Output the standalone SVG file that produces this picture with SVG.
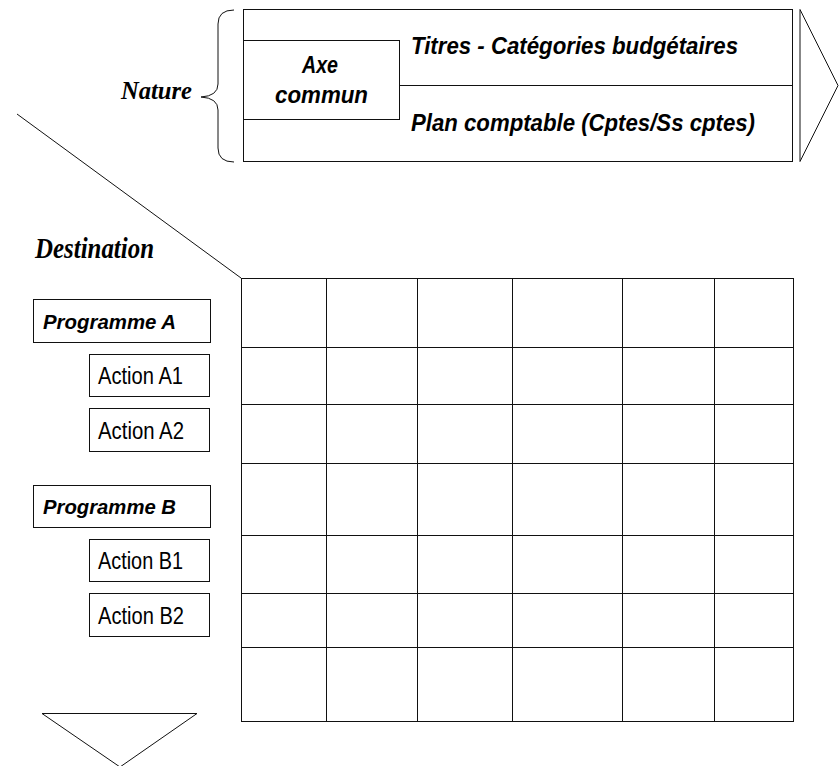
<svg xmlns="http://www.w3.org/2000/svg" width="840" height="766" viewBox="0 0 840 766">
<style>
.ln{fill:none;stroke:#111;stroke-width:1}
.bx{fill:#fff;stroke:#111;stroke-width:1}
.bi{font-family:"Liberation Sans",Arial,sans-serif;font-weight:bold;font-style:italic;fill:#000}
.rg{font-family:"Liberation Sans",Arial,sans-serif;fill:#000}
.sf{font-family:"Liberation Serif","Times New Roman",serif;font-weight:bold;font-style:italic;fill:#000}
</style>
<rect width="840" height="766" fill="#fff"/>
<g id="nature-axis">
<rect class="bx" x="243.5" y="9.5" width="549" height="152"/>
<line class="ln" x1="399.5" y1="85.5" x2="792.5" y2="85.5"/>
<polygon class="ln" points="800,9.5 838,85.5 800,161.5"/>
<path class="ln" d="M234,10 Q218,10 218,24 L218,84 Q218,96 201,97 Q218,98 218,110 L218,148 Q218,162 234,162"/>
<text class="sf" x="121" y="99" font-size="26" textLength="71" lengthAdjust="spacingAndGlyphs">Nature</text>
</g>
<g id="axe-commun">
<rect class="bx" x="243.5" y="40.5" width="156" height="79"/>
<text class="bi" x="302" y="73" font-size="24" textLength="36" lengthAdjust="spacingAndGlyphs">Axe</text>
<text class="bi" x="275" y="103" font-size="24" textLength="93" lengthAdjust="spacingAndGlyphs">commun</text>
</g>
<g id="titres">
<text class="bi" x="411" y="54" font-size="24" textLength="327" lengthAdjust="spacingAndGlyphs">Titres - Catégories budgétaires</text>
</g>
<g id="plan-comptable">
<text class="bi" x="411" y="131" font-size="24" textLength="344" lengthAdjust="spacingAndGlyphs">Plan comptable (Cptes/Ss cptes)</text>
</g>
<g id="connectors">
<line class="ln" x1="17" y1="114" x2="241" y2="278"/>
</g>
<g id="destination">
<text class="sf" x="35" y="258" font-size="29" textLength="119" lengthAdjust="spacingAndGlyphs">Destination</text>
<polygon class="ln" points="42,713.5 197,713.5 120,767"/>
</g>
<g id="programme-a">
<rect class="bx" x="33.5" y="299.5" width="177" height="43"/>
<text class="bi" x="43" y="329" font-size="21" textLength="133" lengthAdjust="spacingAndGlyphs">Programme A</text>
</g>
<g id="action-a1">
<rect class="bx" x="89.5" y="354.5" width="120" height="42"/>
<text class="rg" x="98" y="384" font-size="23" textLength="85" lengthAdjust="spacingAndGlyphs">Action A1</text>
</g>
<g id="action-a2">
<rect class="bx" x="89.5" y="408.5" width="120" height="43"/>
<text class="rg" x="98" y="439" font-size="23" textLength="86" lengthAdjust="spacingAndGlyphs">Action A2</text>
</g>
<g id="programme-b">
<rect class="bx" x="33.5" y="485.5" width="177" height="42"/>
<text class="bi" x="43" y="514" font-size="21" textLength="133" lengthAdjust="spacingAndGlyphs">Programme B</text>
</g>
<g id="action-b1">
<rect class="bx" x="89.5" y="539.5" width="120" height="42"/>
<text class="rg" x="98" y="569" font-size="23" textLength="85" lengthAdjust="spacingAndGlyphs">Action B1</text>
</g>
<g id="action-b2">
<rect class="bx" x="89.5" y="593.5" width="120" height="43"/>
<text class="rg" x="98" y="624" font-size="23" textLength="86" lengthAdjust="spacingAndGlyphs">Action B2</text>
</g>
<g id="matrix">
<rect class="bx" x="241.5" y="278.5" width="552" height="443"/>
<path class="ln" d="M326.5,278.5V721.5M417.5,278.5V721.5M512.5,278.5V721.5M622.5,278.5V721.5M714.5,278.5V721.5"/>
<path class="ln" d="M241.5,347.5H793.5M241.5,404.5H793.5M241.5,463.5H793.5M241.5,535.5H793.5M241.5,593.5H793.5M241.5,647.5H793.5"/>
</g>
</svg>
